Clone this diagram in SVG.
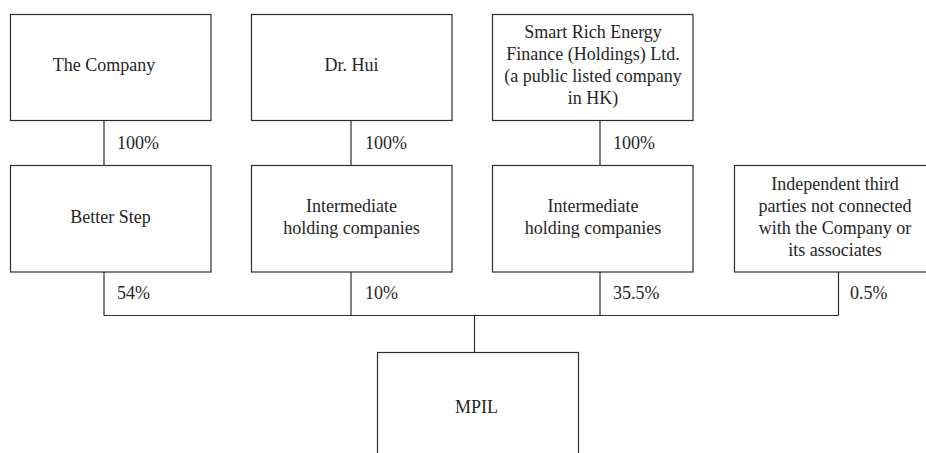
<svg xmlns="http://www.w3.org/2000/svg" width="926" height="453" viewBox="0 0 926 453">
  <style>
    .box { fill: #ffffff; stroke: #2e2e2e; stroke-width: 1.2; }
    .conn { fill: none; stroke: #2e2e2e; stroke-width: 1.2; }
    .t { font-family: 'Liberation Serif', 'DejaVu Serif', serif; font-size: 18px; fill: #262626; }
    .c { text-anchor: middle; }
  </style>
  <rect width="926" height="453" fill="#ffffff"/>

  <!-- ownership connectors with percentage labels -->
  <g id="connectors">
    <line class="conn" x1="104" y1="120.5" x2="104" y2="165.5"/>
    <line class="conn" x1="351" y1="120.5" x2="351" y2="165.5"/>
    <line class="conn" x1="600" y1="120.5" x2="600" y2="165.5"/>
    <line class="conn" x1="104" y1="272" x2="104" y2="315.5"/>
    <line class="conn" x1="351" y1="272" x2="351" y2="315.5"/>
    <line class="conn" x1="600" y1="272" x2="600" y2="315.5"/>
    <line class="conn" x1="838.5" y1="272" x2="838.5" y2="315.5"/>
    <line class="conn" x1="104" y1="315.5" x2="838.5" y2="315.5"/>
    <line class="conn" x1="474.5" y1="315.5" x2="474.5" y2="352.5"/>
    <g class="t">
      <text x="117" y="148.5">100%</text>
      <text x="365" y="148.5">100%</text>
      <text x="613" y="148.5">100%</text>
      <text x="117" y="298.5">54%</text>
      <text x="365" y="298.5">10%</text>
      <text x="613" y="298.5">35.5%</text>
      <text x="850" y="298.5">0.5%</text>
    </g>
  </g>

  <g id="the-company" class="t">
    <rect class="box" x="10.5" y="14.5" width="200.5" height="106"/>
    <text class="c" x="104" y="71">The Company</text>
  </g>

  <g id="dr-hui" class="t">
    <rect class="box" x="251.5" y="14.5" width="200.5" height="106"/>
    <text class="c" x="351.5" y="71">Dr. Hui</text>
  </g>

  <g id="smart-rich" class="t">
    <rect class="box" x="492.5" y="14.5" width="200.5" height="106"/>
    <text class="c" x="593" y="37.5">Smart Rich Energy</text>
    <text class="c" x="593" y="59.5">Finance (Holdings) Ltd.</text>
    <text class="c" x="593" y="81.5">(a public listed company</text>
    <text class="c" x="593" y="103.5">in HK)</text>
  </g>

  <g id="better-step" class="t">
    <rect class="box" x="10.5" y="165.5" width="200.5" height="106.5"/>
    <text class="c" x="110.5" y="222.5">Better Step</text>
  </g>

  <g id="intermediate-1" class="t">
    <rect class="box" x="251.5" y="165.5" width="200.5" height="106.5"/>
    <text class="c" x="351.5" y="212">Intermediate</text>
    <text class="c" x="351.5" y="234">holding companies</text>
  </g>

  <g id="intermediate-2" class="t">
    <rect class="box" x="492.5" y="165.5" width="200.5" height="106.5"/>
    <text class="c" x="593" y="212">Intermediate</text>
    <text class="c" x="593" y="234">holding companies</text>
  </g>

  <g id="independent-parties" class="t">
    <rect class="box" x="734.5" y="165.5" width="201" height="106.5"/>
    <text class="c" x="835" y="189.5">Independent third</text>
    <text class="c" x="835" y="211.5">parties not connected</text>
    <text class="c" x="835" y="233.5">with the Company or</text>
    <text class="c" x="835" y="255.5">its associates</text>
  </g>

  <g id="mpil" class="t">
    <rect class="box" x="377.5" y="352.5" width="201" height="110"/>
    <text class="c" x="476.5" y="412.5">MPIL</text>
  </g>
</svg>
